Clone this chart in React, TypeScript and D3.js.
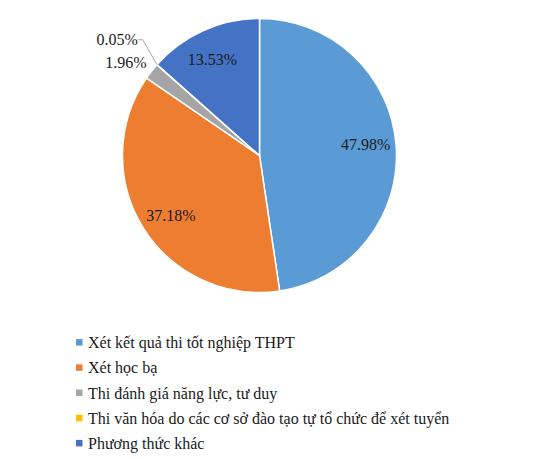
import { useEffect, useRef } from 'react';
import * as d3 from 'd3';

const categories = [
  'Xét kết quả thi tốt nghiệp THPT',
  'Xét học bạ',
  'Thi đánh giá năng lực, tư duy',
  'Thi văn hóa do các cơ sở đào tạo tự tổ chức để xét tuyển',
  'Phương thức khác',
];
const values = [47.98, 37.18, 1.96, 0.05, 13.53];
const labels = ['47.98%', '37.18%', '1.96%', '0.05%', '13.53%'];
const colors = ['#5B9BD5', '#ED7D31', '#A5A5A5', '#FFC000', '#4472C4'];

const WIDTH = 537;
const HEIGHT = 459;

export default function App() {
  const svgRef = useRef<SVGSVGElement | null>(null);

  useEffect(() => {
    if (!svgRef.current) return;
    const svg = d3.select(svgRef.current);
    svg.selectAll('*').remove();

    const cx = 259.5;
    const cy = 155.5;
    const radius = 137;
    const font = 'Liberation Serif';
    const fontSize = '16px';

    const data = values.map((v, i) => ({ name: categories[i], value: v, label: labels[i], color: colors[i] }));

    const pie = d3.pie<typeof data[0]>().value(d => d.value).sort(null);
    const arcs = pie(data);
    const arc = d3.arc<d3.PieArcDatum<typeof data[0]>>().innerRadius(0).outerRadius(radius);

    const g = svg.append('g').attr('transform', `translate(${cx},${cy})`);

    g.selectAll('path.slice')
      .data(arcs)
      .enter()
      .append('path')
      .attr('class', 'slice')
      .attr('d', arc)
      .attr('fill', d => d.data.color)
      .attr('stroke', '#fff')
      .attr('stroke-width', 1.5);

    // polar helper, angle measured clockwise from 12 o'clock
    const polar = (a: number, r: number): [number, number] => [r * Math.sin(a), -r * Math.cos(a)];
    const deg = Math.PI / 180;

    // inside labels for the big slices, outside for the small ones
    const placement: { [k: number]: { k: number; shift: number; leader: boolean } } = {
      2: { k: 1.07, shift: 1.6 * deg, leader: false },
      3: { k: 1.2, shift: 3.2 * deg, leader: true },
    };

    arcs.forEach((d, i) => {
      const mid = (d.startAngle + d.endAngle) / 2;
      const p = placement[i];
      if (!p) {
        const [x, y] = polar(mid - 2 * deg, radius * 0.78);
        g.append('text')
          .attr('x', x)
          .attr('y', y)
          .attr('dy', '0.35em')
          .attr('text-anchor', 'middle')
          .style('font-family', font)
          .style('font-size', fontSize)
          .attr('fill', '#1a1a1a')
          .text(d.data.label);
        return;
      }
      const [x, y] = polar(mid + p.shift, radius * p.k);
      if (p.leader) {
        const [ex, ey] = polar(mid, radius);
        g.append('polyline')
          .attr('points', `${ex},${ey} ${x},${y} ${x - 5},${y}`)
          .attr('fill', 'none')
          .attr('stroke', '#a6a6a6')
          .attr('stroke-width', 1);
      }
      g.append('text')
        .attr('x', p.leader ? x - 5 : x)
        .attr('y', y)
        .attr('dy', '0.35em')
        .attr('text-anchor', 'end')
        .style('font-family', font)
        .style('font-size', fontSize)
        .attr('fill', '#1a1a1a')
        .text(d.data.label);
    });

    // legend
    const legendY = d3.scaleBand<string>()
      .domain(categories)
      .range([330, 456]);

    const legend = svg.append('g');
    const rows = legend.selectAll('g.row')
      .data(data)
      .enter()
      .append('g')
      .attr('class', 'row')
      .attr('transform', d => `translate(0,${legendY(d.name)! + legendY.bandwidth() / 2})`);

    rows.append('rect')
      .attr('x', 76)
      .attr('y', -3.5)
      .attr('width', 6.5)
      .attr('height', 6.5)
      .attr('fill', d => d.color);

    rows.append('text')
      .attr('x', 88)
      .attr('y', 0)
      .attr('dy', '0.35em')
      .style('font-family', font)
      .style('font-size', fontSize)
      .attr('fill', '#1a1a1a')
      .text(d => d.name);
  }, []);

  return (
    <svg
      ref={svgRef}
      width={WIDTH}
      height={HEIGHT}
      style={{ position: 'absolute', left: 0, top: 0, background: '#fff' }}
    />
  );
}
